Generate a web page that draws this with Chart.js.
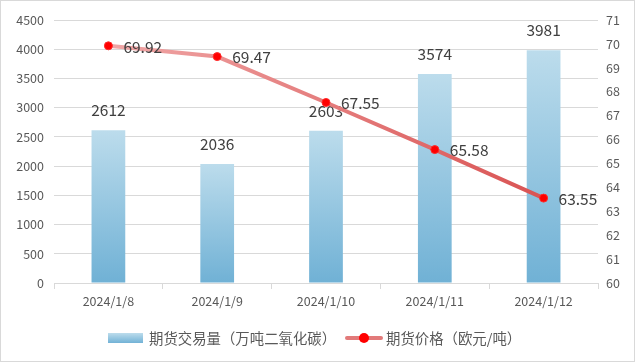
<!DOCTYPE html>
<html><head><meta charset="utf-8">
<script src="https://cdn.jsdelivr.net/npm/chart.js@4"></script>
<style>
html,body{margin:0;padding:0;background:#fff;}
#wrap{position:relative;width:635px;height:362px;box-sizing:border-box;border:1px solid #d9d9d9;background:#fff;overflow:hidden;}
#c{position:absolute;left:0;top:0;}
#legend{position:absolute;left:0;top:326px;width:635px;height:22px;font-family:"Noto Sans CJK SC",sans-serif;font-size:14.4px;color:#595959;}
.item{position:absolute;top:0;height:22px;line-height:22px;white-space:nowrap;}
.sw{position:absolute;}
</style></head><body>
<div id="wrap">
<canvas id="c" width="635" height="362"></canvas>
<div id="legend">
 <div class="item" style="left:107px;"><span class="sw" style="left:0;top:6px;width:35px;height:10px;background:linear-gradient(#bcdcec,#72b2d6);"></span><span style="position:absolute;left:41px;top:0;">期货交易量（万吨二氧化碳）</span></div>
 <div class="item" style="left:344px;"><span class="sw" style="left:0;top:9px;width:38px;height:4px;background:#e27a7a;border-radius:2px;"></span><span class="sw" style="left:14px;top:6px;width:10px;height:10px;border-radius:5px;background:#ff0000;"></span><span style="position:absolute;left:41px;top:0;">期货价格（欧元/吨）</span></div>
</div>
</div>
<script>
const categories = ["2024/1/8","2024/1/9","2024/1/10","2024/1/11","2024/1/12"];
const volumeValues = [2612, 2036, 2603, 3574, 3981];
const priceValues = [69.92, 69.47, 67.55, 65.58, 63.55];
const leftTicks = [0,500,1000,1500,2000,2500,3000,3500,4000,4500];
const rightTicks = [60,61,62,63,64,65,66,67,68,69,70,71];

const FONT = '"Noto Sans CJK SC", sans-serif';

const labelPlugin = {
  id: 'labels',
  afterDatasetDraw(chart, args) {
    const ctx = chart.ctx;
    if (args.index === 0) {
      const meta = chart.getDatasetMeta(0);
      ctx.save();
      ctx.font = '15.5px ' + FONT;
      ctx.fillStyle = '#404040';
      ctx.textAlign = 'center';
      ctx.textBaseline = 'middle';
      meta.data.forEach((el, i) => {
        ctx.fillText(String(volumeValues[i]), el.x, el.y - 20);
      });
      ctx.restore();
    }
  },
  afterDatasetsDraw(chart) {
    const ctx = chart.ctx;
    const meta = chart.getDatasetMeta(1);
    ctx.save();
    ctx.font = '15.5px ' + FONT;
    ctx.fillStyle = '#404040';
    ctx.textAlign = 'left';
    ctx.textBaseline = 'middle';
    meta.data.forEach((el, i) => {
      ctx.fillText(priceValues[i].toFixed(2), el.x + 15, el.y + 1);
    });
    ctx.restore();
  }
};

function barGradient(context) {
  const chart = context.chart;
  const ca = chart.chartArea;
  if (!ca) return '#9ccae4';
  const ys = chart.scales.y;
  const v = context.raw;
  const top = ys.getPixelForValue(v);
  const bottom = ys.getPixelForValue(0);
  const g = chart.ctx.createLinearGradient(0, top, 0, bottom);
  g.addColorStop(0, '#bcdcec');
  g.addColorStop(1, '#70b1d5');
  return g;
}
function lineGradient(context) {
  const chart = context.chart;
  const ca = chart.chartArea;
  if (!ca) return '#e07070';
  const g = chart.ctx.createLinearGradient(ca.left + 50, 0, ca.right - 50, 0);
  g.addColorStop(0, '#f0a8a8');
  g.addColorStop(1, '#d95252');
  return g;
}

new Chart(document.getElementById('c'), {
  type: 'bar',
  data: {
    labels: categories,
    datasets: [
      { type: 'bar', label: '期货交易量（万吨二氧化碳）', data: volumeValues, yAxisID: 'y',
        backgroundColor: barGradient, barPercentage: 0.62, categoryPercentage: 0.5, order: 1 },
      { type: 'line', label: '期货价格（欧元/吨）', data: priceValues, yAxisID: 'y1',
        borderColor: lineGradient, borderWidth: 4, pointRadius: 4, pointHoverRadius: 4,
        pointBackgroundColor: '#ff0000', pointBorderColor: '#ff2a2a', pointBorderWidth: 1,
        tension: 0, order: 0 }
    ]
  },
  options: {
    responsive: false,
    animation: false,
    events: [],
    layout: { padding: { left: 0, right: 0, top: 19, bottom: 0 } },
    plugins: { legend: { display: false }, tooltip: { enabled: false } },
    scales: {
      x: {
        offset: true,
        grid: { offset: true, drawOnChartArea: false, drawTicks: true, tickLength: 6, color: '#d9d9d9' },
        border: { display: true, color: '#d9d9d9' },
        ticks: { color: '#595959', font: { family: FONT, size: 12.5 }, padding: 5, maxRotation: 0 },
        afterFit(s) { s.height = 80; }
      },
      y: {
        position: 'left', min: 0, max: 4500,
        afterBuildTicks(s) { s.ticks = leftTicks.map(v => ({ value: v })); },
        grid: { color: '#d9d9d9', drawTicks: false },
        border: { display: false },
        ticks: { color: '#595959', font: { family: FONT, size: 12.5 }, padding: 10, callback: v => String(v) },
        afterFit(s) { s.width = 53; }
      },
      y1: {
        position: 'right', min: 60, max: 71,
        afterBuildTicks(s) { s.ticks = rightTicks.map(v => ({ value: v })); },
        grid: { drawOnChartArea: false, drawTicks: false },
        border: { display: false },
        ticks: { color: '#595959', font: { family: FONT, size: 12.5 }, padding: 8, callback: v => String(v) },
        afterFit(s) { s.width = 38; }
      }
    }
  },
  plugins: [labelPlugin]
});
</script>
</body></html>
